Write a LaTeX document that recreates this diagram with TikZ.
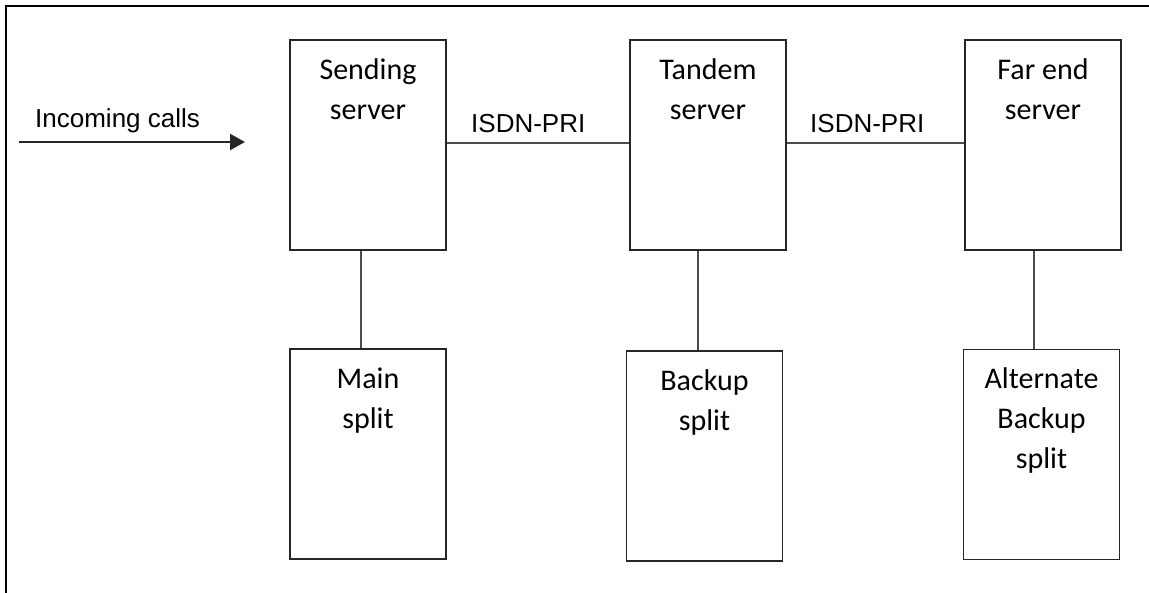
\documentclass[tikz,border=0pt]{standalone}
\usepackage{fontspec}
\setmainfont{Carlito}
\newfontfamily\arialfont{Liberation Sans}
\usetikzlibrary{arrows.meta,positioning,calc}

\begin{document}
\begin{tikzpicture}[x=1pt, y=-1pt, >={Triangle[length=15pt,width=16pt]},
    box/.style={rectangle, draw=black!85, line width=1.8pt, minimum width=156pt, minimum height=210pt, inner sep=0pt},
    lbl/.style={anchor=north, align=center, inner sep=0pt, yshift=-16pt, font=\fontsize{30}{40}\selectfont},
    link/.style={draw=black!70, line width=2.4pt},
    tag/.style={anchor=base west, inner sep=0pt, font=\arialfont\fontsize{26}{30}\selectfont}]
    \useasboundingbox (0,0) rectangle (1149,593);
    \draw[black, line width=1.8pt] (6,593) -- (6,6) -- (1149,6);
    % servers
    \node[box, label={[lbl]north:{\rule{0pt}{24pt}Sending\\server}}] (sending) at (368,145) {};
    \node[box, label={[lbl]north:{\rule{0pt}{24pt}Tandem\\server}}] (tandem) at (708,145) {};
    \node[box, label={[lbl]north:{\rule{0pt}{24pt}Far end\\server}}] (farend) at (1043,145) {};
    % splits
    \node[box, label={[lbl]north:{\rule{0pt}{24pt}Main\\split}}] (main) at (368,454) {};
    \node[box, label={[lbl]north:{\rule{0pt}{24pt}Backup\\split}}] (backup) at (704.5,456) {};
    \node[box, label={[lbl]north:{\rule{0pt}{24pt}Alternate\\Backup\\split}}] (altbackup) at (1041.5,454.5) {};
    % labels
    \node[tag] (incoming) at (35,128) {Incoming calls};
    \node[tag] (prione) at (471,133) {ISDN-PRI};
    \node[tag] (pritwo) at (810,133) {ISDN-PRI};
    \coordinate (src) at (19,142);
    \coordinate (dst) at (245,142);
    \draw[->, link, draw=black!85] (src) -- (dst);
    \draw[link] ([yshift=2pt]sending.east) -- ([yshift=2pt]tandem.west);
    \draw[link] ([yshift=2pt]tandem.east) -- ([yshift=2pt]farend.west);
    \draw[link] ([xshift=-7pt]sending.south) -- ([xshift=-7pt]sending.south |- main.north);
    \draw[link] ([xshift=-10pt]tandem.south) -- ([xshift=-10pt]tandem.south |- backup.north);
    \draw[link] ([xshift=-9pt]farend.south) -- ([xshift=-9pt]farend.south |- altbackup.north);
\end{tikzpicture}
\end{document}
